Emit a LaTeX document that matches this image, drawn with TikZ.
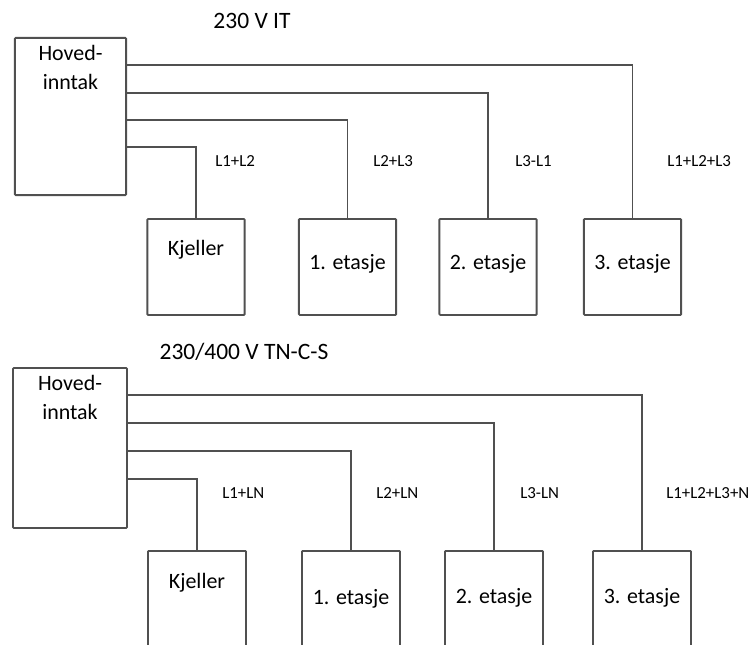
\documentclass[tikz,border=0pt]{standalone}
\usepackage{fontspec}
\setmainfont{Carlito}
\usetikzlibrary{positioning}
\usepackage{xcolor}
\definecolor{linjefarge}{RGB}{80,80,80}

\begin{document}
\begin{tikzpicture}[
    x=0.025cm, y=-0.025cm,
    boks/.style={rectangle, draw=linjefarge, line width=1.3pt, rounded corners=0.6pt, inner sep=0pt},
    hoved/.style={boks, minimum width=2.78cm, minimum height=3.93cm},
    etg/.style={boks, anchor=north, minimum width=2.43cm, minimum height=2.4cm},
    etgned/.style={boks, anchor=north, minimum width=2.45cm, minimum height=2.8cm},
    tekst/.style={font=\fontsize{15.6}{20.5}\selectfont, align=center, inner sep=0pt},
    tittel/.style={font=\fontsize{16.7}{20}\selectfont, inner sep=0pt},
    lbl/.style={font=\fontsize{12}{14}\selectfont, inner sep=0pt, anchor=west},
    leder/.style={draw=linjefarge, line width=1.3pt}
]
\useasboundingbox (0,0) rectangle (754,644);
\clip (0,0) rectangle (754,644);

% 230 V IT
\node[tittel] (tittelA) at (252,21) {230 V IT};
\node[hoved] (hovedA) at (70.5,116.5) {};
\node[tekst, below=0.2cm of hovedA.north] (hovedAtxt) {Hoved-\\inntak};

\node[etg] (kjellerA) at (196,218) {};
\node[etg] (etg1A) at (347.5,218) {};
\node[etg] (etg2A) at (488,218) {};
\node[etg] (etg3A) at (632.5,218) {};
\node[tekst, below=0.55cm of kjellerA.north] {Kjeller};
\node[tekst, below=0.9cm of etg1A.north] {1. etasje};
\node[tekst, below=0.9cm of etg2A.north] {2. etasje};
\node[tekst, below=0.9cm of etg3A.north] {3. etasje};

\draw[leder] ([yshift=-0.7cm]hovedA.north east) -| (etg3A.north);
\draw[leder] ([yshift=-1.4cm]hovedA.north east) -| (etg2A.north);
\draw[leder] ([yshift=-2.075cm]hovedA.north east) -| (etg1A.north);
\draw[leder] ([yshift=-2.75cm]hovedA.north east) -| (kjellerA.north);

\node[lbl] at (215,161) {L1+L2};
\node[lbl] at (373,161) {L2+L3};
\node[lbl] at (515,161) {L3-L1};
\node[lbl] at (667,161) {L1+L2+L3};

% 230/400 V TN-C-S
\node[tittel] (tittelB) at (244,352) {230/400 V TN-C-S};
\node[hoved, minimum width=2.85cm, minimum height=4cm] (hovedB) at (70,448) {};
\node[tekst, below=0.2cm of hovedB.north] (hovedBtxt) {Hoved-\\inntak};

\node[etgned] (kjellerB) at (197,550) {};
\node[etgned] (etg1B) at (351,550) {};
\node[etgned] (etg2B) at (494,550) {};
\node[etgned] (etg3B) at (642,550) {};
\node[tekst, below=0.58cm of kjellerB.north] {Kjeller};
\node[tekst, below=0.97cm of etg1B.north] {1. etasje};
\node[tekst, below=0.95cm of etg2B.north] {2. etasje};
\node[tekst, below=0.95cm of etg3B.north] {3. etasje};

\draw[leder] ([yshift=-0.7cm]hovedB.north east) -| (etg3B.north);
\draw[leder] ([yshift=-1.4cm]hovedB.north east) -| (etg2B.north);
\draw[leder] ([yshift=-2.1cm]hovedB.north east) -| (etg1B.north);
\draw[leder] ([yshift=-2.8cm]hovedB.north east) -| (kjellerB.north);

\node[lbl] at (222,493) {L1+LN};
\node[lbl] at (376,493) {L2+LN};
\node[lbl] at (520,493) {L3-LN};
\node[lbl] at (666,493) {L1+L2+L3+N};

\end{tikzpicture}
\end{document}
